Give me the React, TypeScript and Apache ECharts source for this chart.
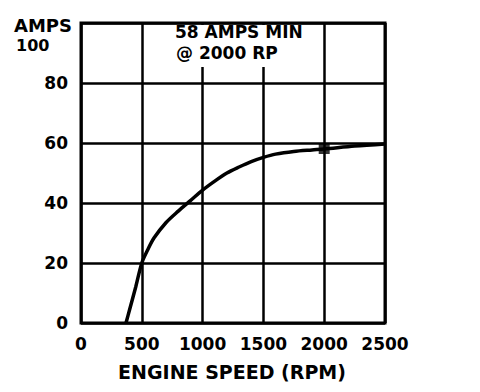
import React, { useEffect, useRef } from "react";
import * as echarts from "echarts";

const rpm = [370, 400, 450, 500, 550, 600, 700, 800, 900, 1000, 1100, 1200, 1300, 1400, 1500, 1600, 1750, 1900, 2000, 2250, 2500];
const amps = [0, 4.5, 12, 20, 24.5, 28.3, 33.5, 37.3, 40.8, 44.3, 47.3, 50, 52, 53.8, 55.2, 56.3, 57.2, 57.7, 58, 59, 59.7];
const markerRpm = [2000];
const markerAmps = [58];
const xTicks = [0, 500, 1000, 1500, 2000, 2500];
const yTicks = [0, 20, 40, 60, 80, 100];
const annotation = ["58 AMPS MIN", "@ 2000 RP"];
const xTitle = "ENGINE SPEED (RPM)";
const yTitle = "AMPS";

const FONT = "DejaVu Sans";

export default function App() {
  const ref = useRef<HTMLDivElement>(null);
  useEffect(() => {
    if (!ref.current) return;
    const chart = echarts.init(ref.current, null, { renderer: "svg" });
    chart.setOption({
      animation: false,
      backgroundColor: "#ffffff",
      grid: {
        left: 81,
        right: 95,
        top: 23,
        bottom: 69,
        show: true,
        borderColor: "#000",
        borderWidth: 3,
        backgroundColor: "transparent",
      },
      xAxis: {
        type: "value",
        min: xTicks[0],
        max: xTicks[xTicks.length - 1],
        interval: 500,
        axisLine: { show: false },
        axisTick: { show: false },
        splitLine: { show: true, lineStyle: { color: "#000", width: 2.5 } },
        axisLabel: {
          color: "#000",
          fontFamily: FONT,
          fontWeight: "bold",
          fontSize: 17,
          margin: 12,
          formatter: (v: number) => String(v),
        },
      },
      yAxis: {
        type: "value",
        min: yTicks[0],
        max: yTicks[yTicks.length - 1],
        interval: 20,
        axisLine: { show: false },
        axisTick: { show: false },
        splitLine: { show: true, lineStyle: { color: "#000", width: 2.5 } },
        axisLabel: {
          color: "#000",
          fontFamily: FONT,
          fontWeight: "bold",
          fontSize: 17,
          margin: 13,
          formatter: (v: number) => (v === 100 ? "" : String(v)),
        },
      },
      graphic: [
        {
          type: "rect",
          z: 10,
          shape: { x: 160, y: 25, width: 155, height: 42 },
          style: { fill: "#fff" },
        },
        {
          type: "text",
          z: 11,
          x: 175,
          y: 32,
          style: {
            text: annotation[0],
            fill: "#000",
            font: `bold 17px "${FONT}"`,
            verticalAlign: "middle",
            align: "left",
          },
        },
        {
          type: "text",
          z: 11,
          x: 176,
          y: 53,
          style: {
            text: annotation[1],
            fill: "#000",
            font: `bold 17px "${FONT}"`,
            verticalAlign: "middle",
            align: "left",
          },
        },
        {
          type: "text",
          z: 11,
          x: 14,
          y: 25,
          style: {
            text: yTitle,
            fill: "#000",
            font: `bold 18px "${FONT}"`,
            verticalAlign: "middle",
            align: "left",
          },
        },
        {
          type: "text",
          z: 11,
          x: 16,
          y: 45,
          style: {
            text: String(yTicks[yTicks.length - 1]),
            fill: "#000",
            font: `bold 16px "${FONT}"`,
            verticalAlign: "middle",
            align: "left",
          },
        },
        {
          type: "text",
          z: 11,
          x: 232,
          y: 372,
          style: {
            text: xTitle,
            fill: "#000",
            font: `bold 19px "${FONT}"`,
            verticalAlign: "middle",
            align: "center",
          },
        },
      ],
      series: [
        {
          type: "line",
          data: rpm.map((r, i) => [r, amps[i]]),
          smooth: 0.3,
          showSymbol: false,
          lineStyle: { color: "#000", width: 3.5 },
          z: 5,
        },
        {
          type: "scatter",
          data: markerRpm.map((r, i) => [r, markerAmps[i]]),
          symbol: "rect",
          symbolSize: [11, 10],
          itemStyle: { color: "#000" },
          z: 6,
        },
      ],
    });
    return () => chart.dispose();
  }, []);
  return (
    <div
      ref={ref}
      style={{ position: "fixed", left: 0, top: 0, width: 480, height: 392 }}
    />
  );
}
